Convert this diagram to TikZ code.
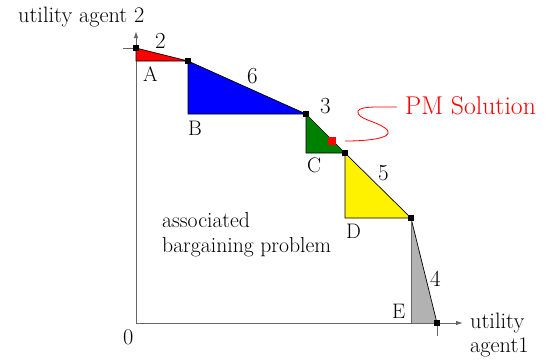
\documentclass[tikz,border=0pt]{standalone}
\usepackage{fontspec}
\setmainfont{Latin Modern Roman}
\usetikzlibrary{arrows.meta}
\begin{document}
\begin{tikzpicture}[x=1pt,y=-1pt,
 cmtxt/.style={font=\fontsize{22.3}{24}\selectfont, inner sep=0pt, anchor=base west},
 txt/.style={font=\fontsize{21.7}{24}\selectfont, inner sep=0pt, anchor=base west},
 lbl/.style={font=\fontsize{21}{24}\selectfont, inner sep=0pt, anchor=base west},
 num/.style={font=\fontsize{23}{25}\selectfont, inner sep=0pt, anchor=base west},
 axis/.style={draw=black!60, line width=0.9pt},
 tri/.style={draw=black, line width=0.7pt},
 pt/.style={fill=black, minimum size=6pt, inner sep=0pt},
]
\useasboundingbox (0,0) rectangle (558,360);
% points
\coordinate (O) at (136,323);
\coordinate (Ytip) at (136,31);
\coordinate (Xtip) at (463,323);
\coordinate (P0) at (136,48);
\coordinate (P1) at (188,61);
\coordinate (P2) at (306,114);
\coordinate (P3) at (345,153);
\coordinate (P4) at (411,218);
\coordinate (P5) at (437,323);
\coordinate (Ac) at (136,61);
\coordinate (Bc) at (188,114);
\coordinate (Cc) at (306,153);
\coordinate (Dc) at (345,218);
\coordinate (Ec) at (411,323);
\coordinate (ytick) at (123,48);
\coordinate (xtick) at (437,336);
% axes
\draw[axis, -{Latex[length=7pt,width=4.5pt]}] (O) -- (Ytip);
\draw[axis, -{Latex[length=7pt,width=4.5pt]}] (O) -- (Xtip);
\draw[axis] (ytick) -- (P0);
\draw[axis] (P5) -- (xtick);
% triangles
\filldraw[tri, fill=red] (P0) -- (P1) -- (Ac) -- cycle;
\filldraw[tri, fill=blue] (P1) -- (P2) -- (Bc) -- cycle;
\filldraw[tri, fill={rgb,255:red,0;green,128;blue,0}] (P2) -- (P3) -- (Cc) -- cycle;
\filldraw[tri, fill=yellow] (P3) -- (P4) -- (Dc) -- cycle;
\filldraw[fill=black!30, draw=black!60, line width=0.7pt] (P4) -- (Ec) -- (P5);
\draw[tri] (P4) -- (P5);
\draw[axis] (P4) -- (Ec);
% corner markers
\foreach \p in {P0,P1,P2,P3,P4,P5} \node[pt] (s\p) at (\p) {};
% PM solution
\node[fill=red, minimum size=8pt, inner sep=0pt] (pmsq) at (332,141) {};
\node[font=\fontsize{25.7}{28}\selectfont, text=red, inner sep=0pt, anchor=base west] (pmtext) at (405,114) {PM Solution};
\coordinate (cs) at (345,141);
\coordinate (ce) at (397,107);
\draw[red, line width=0.8pt] (cs) .. controls (378,141) and (396,136) .. (385,128)
  .. controls (376,121) and (356,119) .. (358,111)
  .. controls (360,106) and (380,107) .. (ce);
% labels
\node[cmtxt] (ylab) at (18,22.5) {utility agent 2};
\node[cmtxt] (xlab1) at (470,328) {utility};
\node[cmtxt] (xlab2) at (470,352) {agent1};
\node[cmtxt] (zero) at (123,344) {0};
\node[txt] (assoc1) at (162,227) {associated};
\node[txt] (assoc2) at (162,252) {bargaining problem};
\node[lbl] (la) at (143,81) {A};
\node[lbl] (lb) at (188,135) {B};
\node[lbl] (lc) at (307,172) {C};
\node[lbl] (ld) at (346,238) {D};
\node[lbl] (le) at (392,318) {E};
\node[num] (n2) at (155,48) {2};
\node[num] (n6) at (247,83) {6};
\node[num] (n3) at (320,113) {3};
\node[num] (n5) at (378,180) {5};
\node[num] (n4) at (430,286) {4};
\end{tikzpicture}
\end{document}
